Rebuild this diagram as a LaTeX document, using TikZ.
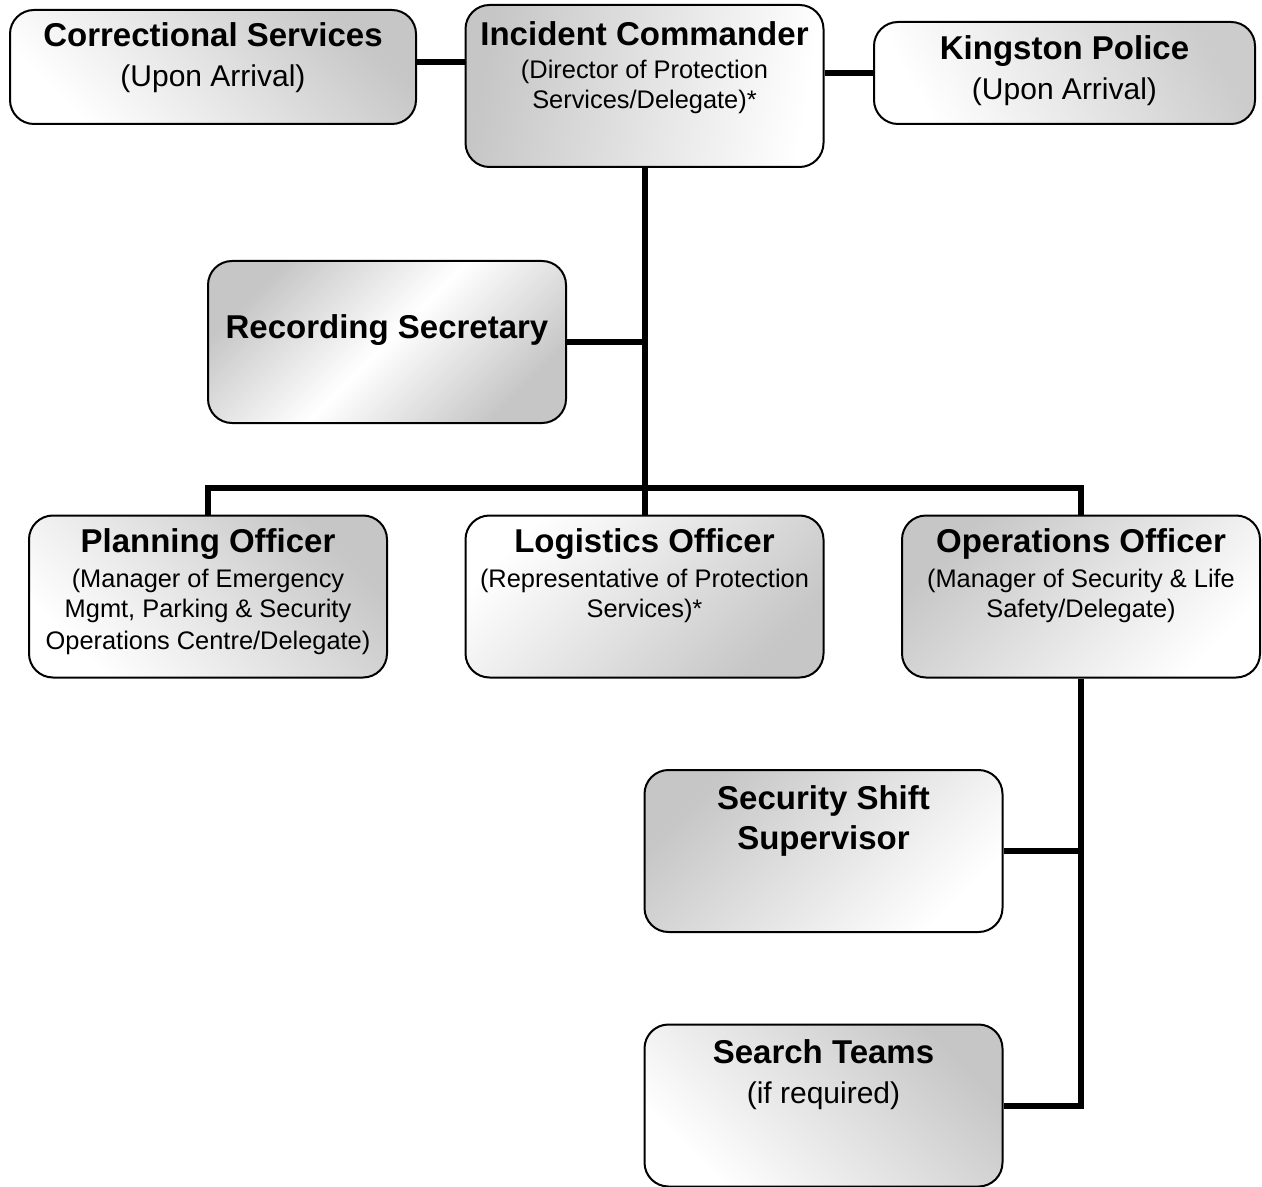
\documentclass[tikz,border=0pt]{standalone}
\usepackage{fontspec}
\setmainfont{Liberation Sans}
\newcommand\hd{\fontsize{16.5}{19}\selectfont\bfseries}
\newcommand\sbig{\fontsize{15}{18}\selectfont}
\newcommand\ssm{\fontsize{12.7}{15}\selectfont}
\tikzset{
    orgbox/.style ={draw, line width=1pt, rounded corners=12pt, minimum width=179pt, minimum height=81pt, inner sep=0pt},
    shadeone/.style ={top color=gray!45, bottom color=white, shading angle=#1},
    shadetwo/.style ={top color=gray!45, bottom color=gray!45, middle color=white, shading angle=#1},
    TX/.style ={anchor=north, yshift=-7pt, align=center, inner sep=0pt, font=\ssm},
    conn/.style ={line width=3pt}}
\begin{document}
\begin{tikzpicture}[x=0.5pt,y=-0.5pt]
    \useasboundingbox (0,0) rectangle (1262,1187);
        \node[orgbox, minimum width=203pt, minimum height=57pt, shadeone=-45,
            label={[TX,yshift=0.5pt]north:{{\hd Correctional Services}\\[5pt]{\sbig (Upon Arrival)}}}] (cs) at (213,67){};
        \node[orgbox, shadeone=80,
            label={[TX,yshift=-1.5pt]north:{{\hd Incident Commander}\\[1.5pt](Director of Protection\\Services/Delegate)*}}] (ic) at (644.5,86){};
        \node[orgbox, minimum width=190.5pt, minimum height=51pt, top color=gray!40, bottom color=white, shading angle=-60,
            label={[TX,yshift=0pt]north:{{\hd Kingston Police}\\[5pt]{\sbig (Upon Arrival)}}}] (kp) at (1064.5,73){};
        \node[orgbox, shadetwo=45,
            label={[TX,yshift=-20pt]north:{\hd Recording Secretary}}] (rs) at (387,342){};
        \node[orgbox, shadeone=-45,
            label={[TX]north:{{\hd Planning Officer}\\[2.5pt](Manager of Emergency\\Mgmt, Parking \& Security\\[1pt]Operations Centre/Delegate)}}] (po) at (208,596.5){};
        \node[orgbox, shadeone=-135,
            label={[TX]north:{{\hd Logistics Officer}\\[2.5pt](Representative of Protection\\Services)*}}] (lo) at (644.5,596.5){};
        \node[orgbox, shadeone=45,
            label={[TX]north:{{\hd Operations Officer}\\[2.5pt](Manager of Security \& Life\\Safety/Delegate)}}] (oo) at (1081,596.5){};
        \node[orgbox, shadeone=45,
            label={[TX,yshift=-1pt]north:{{\hd Security Shift}\\[3.5pt]{\hd Supervisor}}}] (ss) at (823.5,851){};
        \node[orgbox, shadeone=-45,
            label={[TX,yshift=-1pt]north:{{\hd Search Teams}\\[5pt]{\sbig (if required)}}}] (st) at (823.5,1105.5){};
        % connectors
        \draw[conn] ([yshift=2.5pt]cs.east) -- ([yshift=2.5pt]cs.east -| ic.west);
        \draw[conn] (kp.west) -- (kp.west -| ic.east);
        \draw[conn] (ic.south) -- (lo.north);
        \draw[conn] (rs.east) -- (rs.east -| ic.south);
        \draw[conn] (po.north) -- ++(0,-27) -| (oo.north);
        \draw[conn] (oo.south) |- (st.east);
        \draw[conn] (ss.east) -- (ss.east -| oo.south);
    \end{tikzpicture}
\end{document}
